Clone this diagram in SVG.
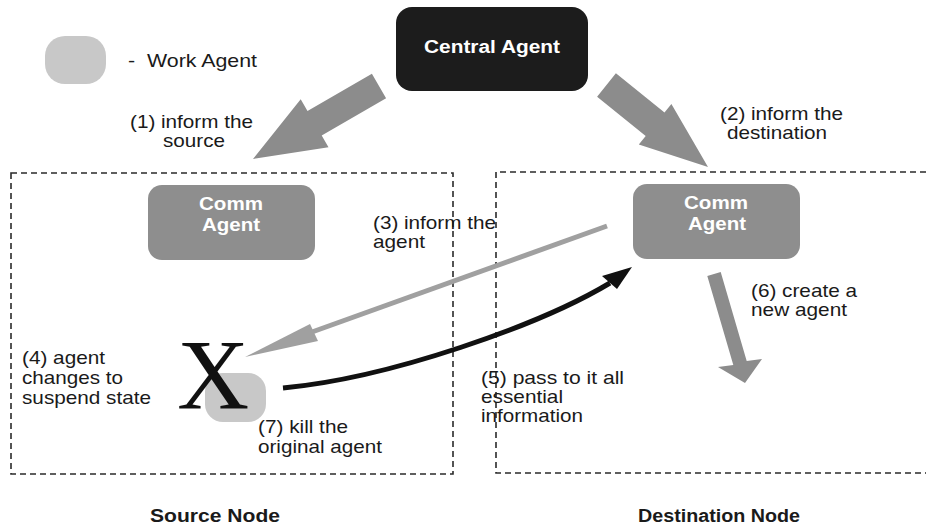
<svg xmlns="http://www.w3.org/2000/svg" width="926" height="527" viewBox="0 0 926 527">
<style>
.t{font-family:"Liberation Sans",Arial,sans-serif;font-size:18.5px;fill:#1a1a1a}
.b{font-family:"Liberation Sans",Arial,sans-serif;font-size:17.5px;font-weight:bold;fill:#ffffff}
.n{font-family:"Liberation Sans",Arial,sans-serif;font-size:18px;font-weight:bold;fill:#1a1a1a}
.box{fill:none;stroke:#2a2a2a;stroke-width:1.6;stroke-dasharray:6 4}
.comm{fill:#8e8e8e}
.work{fill:#c8c8c8}
.blk{fill:#8c8c8c}
</style>
<rect width="926" height="527" fill="#ffffff"/>
<g id="source-node">
<rect class="box" x="11" y="173" width="442" height="301"/>
<text class="n" x="150" y="522" textLength="130" lengthAdjust="spacingAndGlyphs">Source Node</text>
</g>
<g id="destination-node">
<path class="box" d="M926,172 H496 V473 H926"/>
<text class="n" x="638" y="522" textLength="162" lengthAdjust="spacingAndGlyphs">Destination Node</text>
</g>
<g id="legend">
<rect class="work" x="45" y="36" width="61" height="48" rx="20"/>
<text class="t" x="128" y="67" textLength="129" lengthAdjust="spacingAndGlyphs">-&#160; Work Agent</text>
</g>
<g id="central-agent">
<rect x="396" y="7" width="192" height="84" rx="16" fill="#1c1c1c"/>
<text class="b" x="424" y="53" textLength="136" lengthAdjust="spacingAndGlyphs">Central Agent</text>
</g>
<g id="comm-agent-source">
<rect class="comm" x="148" y="185" width="167" height="75" rx="14"/>
<text class="b" x="199" y="210" textLength="64" lengthAdjust="spacingAndGlyphs">Comm</text>
<text class="b" x="202" y="231" textLength="58" lengthAdjust="spacingAndGlyphs">Agent</text>
</g>
<g id="comm-agent-destination">
<rect class="comm" x="633" y="184" width="167" height="75" rx="14"/>
<text class="b" x="684" y="209" textLength="64" lengthAdjust="spacingAndGlyphs">Comm</text>
<text class="b" x="688" y="230" textLength="58" lengthAdjust="spacingAndGlyphs">Agent</text>
</g>
<g id="work-agent">
<rect class="work" x="205" y="373" width="61" height="49" rx="18"/>
<text x="177" y="408" font-family="'Liberation Serif','Times New Roman',serif" font-size="100" fill="#111">X</text>
</g>
<g id="connectors">
<polygon class="blk" points="371.9,73.7 386.1,98.3 321.7,135.6 328.5,147.3 253,159 300.7,99.3 307.5,111"/>
<polygon class="blk" points="615.9,73.3 664.5,112.6 671.4,104.1 708,167 638.8,144.5 645.7,136 597.1,96.7"/>
<polygon class="blk" points="707.3,275.9 720.7,272.1 746.7,361.1 762,359 745,383 718,367 733.3,364.9"/>
<line x1="607" y1="226" x2="312" y2="332" stroke="#a0a0a0" stroke-width="5"/>
<polygon points="310,324 318,341 245,357" fill="#a0a0a0"/>
<path d="M283,388 C390,378 540,325 610,283" fill="none" stroke="#111" stroke-width="5"/>
<polygon points="602,276 617,289 632,267" fill="#111"/>
</g>
<g id="labels">
<text class="t" x="130" y="128" textLength="123" lengthAdjust="spacingAndGlyphs">(1) inform the</text>
<text class="t" x="163" y="147" textLength="62" lengthAdjust="spacingAndGlyphs">source</text>
<text class="t" x="720" y="120" textLength="123" lengthAdjust="spacingAndGlyphs">(2) inform the</text>
<text class="t" x="727" y="139" textLength="100" lengthAdjust="spacingAndGlyphs">destination</text>
<text class="t" x="373" y="229" textLength="123" lengthAdjust="spacingAndGlyphs">(3) inform the</text>
<text class="t" x="373" y="248" textLength="52" lengthAdjust="spacingAndGlyphs">agent</text>
<text class="t" x="22" y="364" textLength="83" lengthAdjust="spacingAndGlyphs">(4) agent</text>
<text class="t" x="22" y="384" textLength="101" lengthAdjust="spacingAndGlyphs">changes to</text>
<text class="t" x="22" y="404" textLength="129" lengthAdjust="spacingAndGlyphs">suspend state</text>
<text class="t" x="481" y="384" textLength="143" lengthAdjust="spacingAndGlyphs">(5) pass to it all</text>
<text class="t" x="481" y="403" textLength="82" lengthAdjust="spacingAndGlyphs">essential</text>
<text class="t" x="481" y="422" textLength="102" lengthAdjust="spacingAndGlyphs">information</text>
<text class="t" x="751" y="297" textLength="106" lengthAdjust="spacingAndGlyphs">(6) create a</text>
<text class="t" x="751" y="316" textLength="96" lengthAdjust="spacingAndGlyphs">new agent</text>
<text class="t" x="258" y="433" textLength="90" lengthAdjust="spacingAndGlyphs">(7) kill the</text>
<text class="t" x="258" y="453" textLength="124" lengthAdjust="spacingAndGlyphs">original agent</text>
</g>
</svg>
